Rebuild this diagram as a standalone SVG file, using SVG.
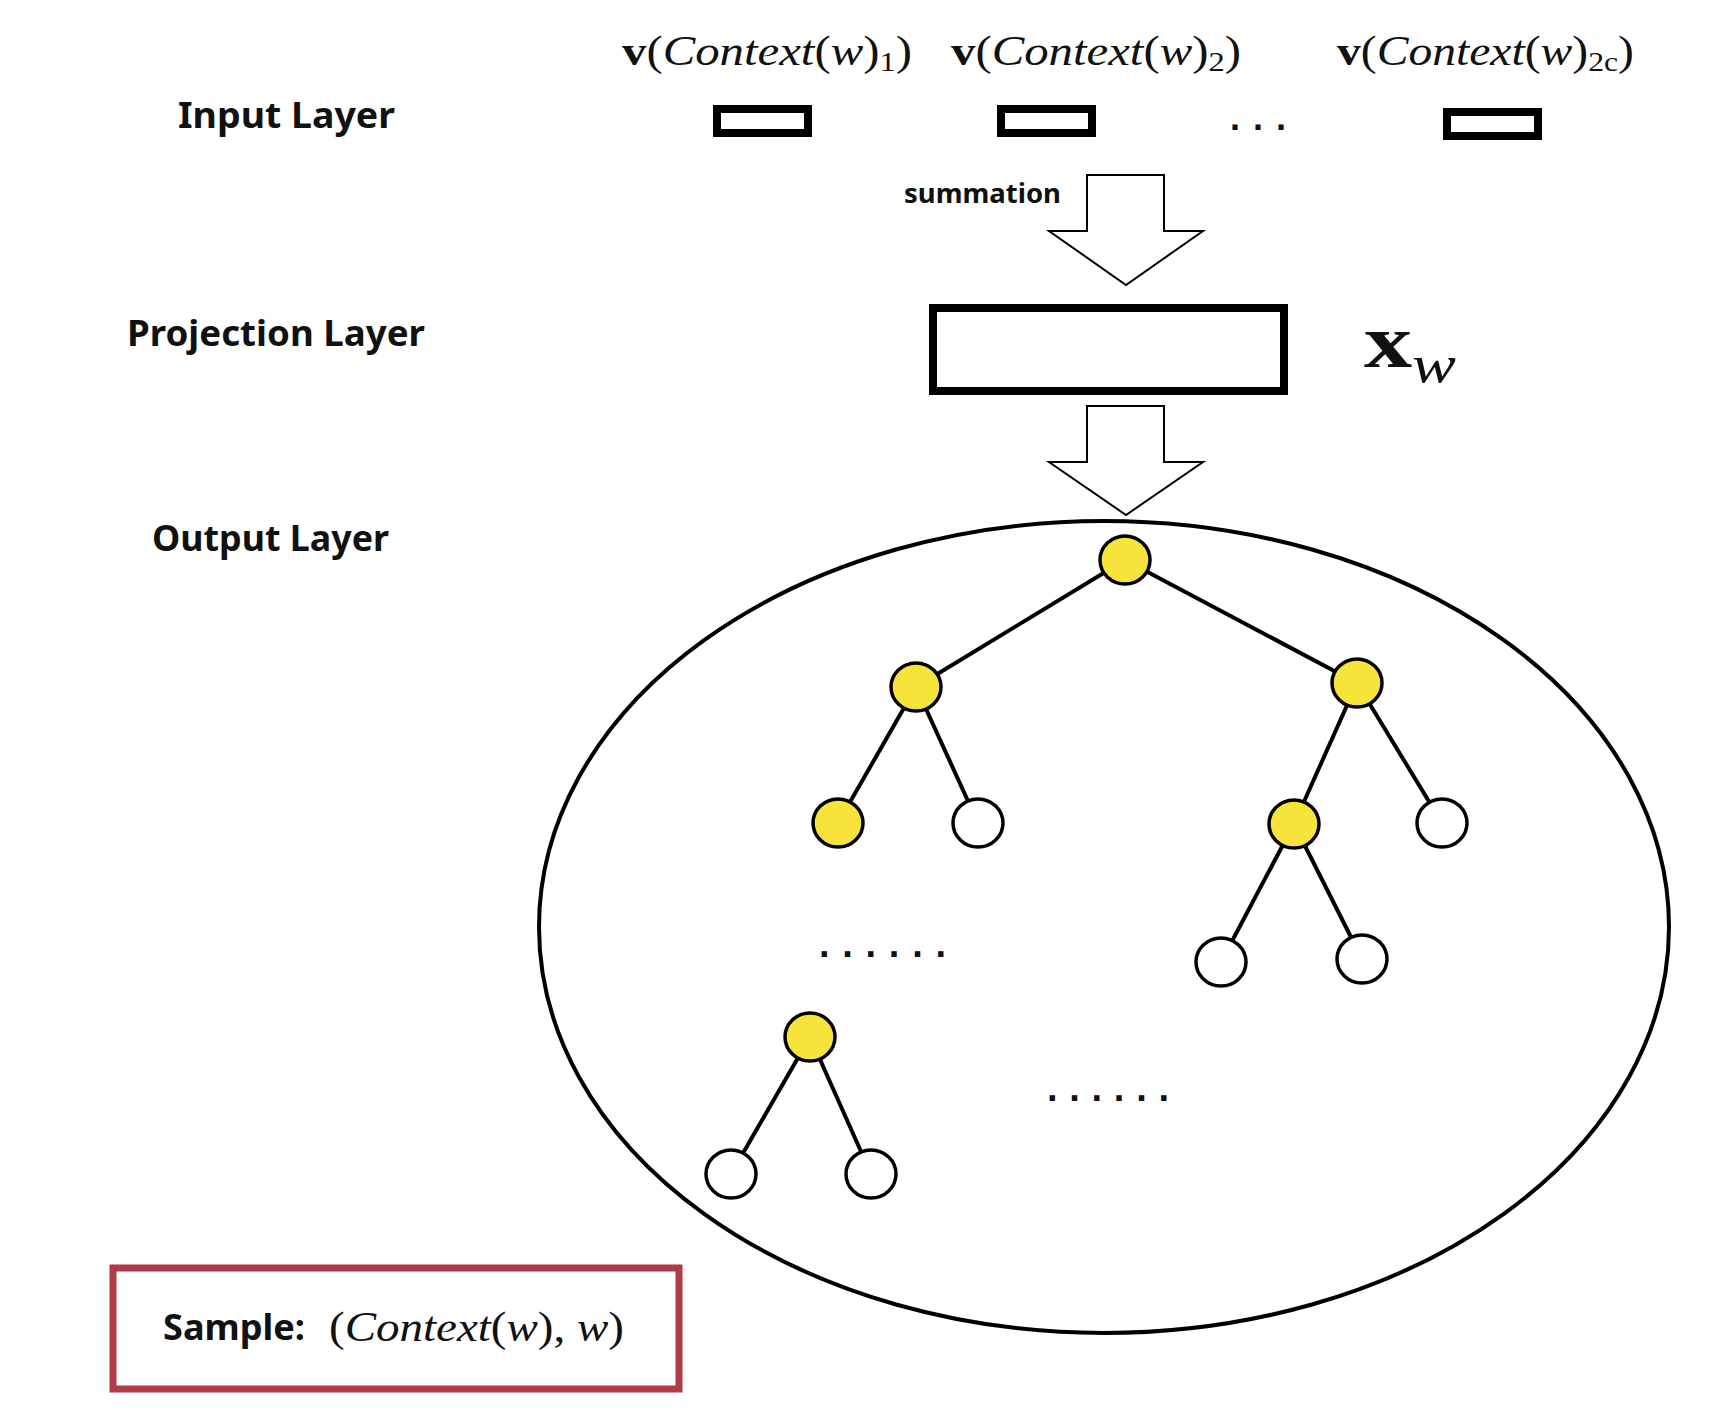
<svg xmlns="http://www.w3.org/2000/svg" width="1724" height="1416" viewBox="0 0 1724 1416">
<style>
.lbl{font-family:"Noto Sans","Open Sans","Liberation Sans",sans-serif;font-weight:bold;fill:#111}
.math{font-family:"Liberation Serif","DejaVu Serif",serif;fill:#111}
.it{font-style:italic}
.bf{font-weight:bold;font-style:normal}
.box{fill:#fff;stroke:#000;stroke-width:8}
.arrow{fill:#fff;stroke:#000;stroke-width:2;stroke-linejoin:miter}
.edge{stroke:#000;stroke-width:4;fill:none}
.yel{fill:#F6E43A;stroke:#000;stroke-width:3.5}
.wht{fill:#fff;stroke:#000;stroke-width:3.5}
.dots{font-family:"Liberation Sans",sans-serif;font-weight:bold;fill:#111}
</style>
<rect width="1724" height="1416" fill="#fff"/>

<g id="layer-labels">
<text class="lbl" x="178" y="128" font-size="36" textLength="217" lengthAdjust="spacingAndGlyphs">Input  Layer</text>
<text class="lbl" x="127" y="346" font-size="36" textLength="298" lengthAdjust="spacingAndGlyphs">Projection  Layer</text>
<text class="lbl" x="152" y="551" font-size="36" textLength="237" lengthAdjust="spacingAndGlyphs">Output Layer</text>
</g>

<g id="input-1">
<text class="math" x="622" y="65" font-size="42" textLength="290" lengthAdjust="spacingAndGlyphs"><tspan class="bf">v</tspan>(<tspan class="it">Context</tspan>(<tspan class="it">w</tspan>)<tspan font-size="28" dy="6">1</tspan><tspan dy="-6">)</tspan></text>
<rect class="box" x="717" y="109" width="91" height="24"/>
</g>
<g id="input-2">
<text class="math" x="951" y="65" font-size="42" textLength="290" lengthAdjust="spacingAndGlyphs"><tspan class="bf">v</tspan>(<tspan class="it">Context</tspan>(<tspan class="it">w</tspan>)<tspan font-size="28" dy="6">2</tspan><tspan dy="-6">)</tspan></text>
<rect class="box" x="1001" y="109" width="91" height="24"/>
</g>
<g id="input-dots">
<text class="dots" x="1230" y="130" font-size="36" textLength="56" lengthAdjust="spacing">...</text>
</g>
<g id="input-2c">
<text class="math" x="1337" y="65" font-size="42" textLength="297" lengthAdjust="spacingAndGlyphs"><tspan class="bf">v</tspan>(<tspan class="it">Context</tspan>(<tspan class="it">w</tspan>)<tspan font-size="28" dy="6">2c</tspan><tspan dy="-6">)</tspan></text>
<rect class="box" x="1447" y="112" width="91" height="24"/>
</g>

<g id="summation-arrow">
<polygon class="arrow" points="1087,175 1164,175 1164,231 1203,231 1126,285 1049,231 1087,231"/>
<text class="lbl" x="904" y="203" font-size="27" textLength="157" lengthAdjust="spacingAndGlyphs">summation</text>
</g>

<g id="projection">
<rect class="box" x="933" y="308" width="351" height="83"/>
<text class="math" x="1364" y="367" font-size="76" textLength="92" lengthAdjust="spacingAndGlyphs"><tspan class="bf">x</tspan><tspan class="it" font-size="52" dy="15">w</tspan></text>
</g>

<g id="output-arrow">
<polygon class="arrow" points="1087,406 1164,406 1164,462 1203,462 1126,515 1049,462 1087,462"/>
</g>

<g id="output-ellipse">
<ellipse cx="1104" cy="927" rx="565" ry="406" fill="none" stroke="#000" stroke-width="4"/>
</g>

<g id="connectors">
<line class="edge" x1="1125" y1="560" x2="916" y2="687"/>
<line class="edge" x1="1125" y1="560" x2="1357" y2="683"/>
<line class="edge" x1="916" y1="687" x2="838" y2="823"/>
<line class="edge" x1="916" y1="687" x2="978" y2="823"/>
<line class="edge" x1="1357" y1="683" x2="1294" y2="824"/>
<line class="edge" x1="1357" y1="683" x2="1442" y2="823"/>
<line class="edge" x1="1294" y1="824" x2="1221" y2="962"/>
<line class="edge" x1="1294" y1="824" x2="1362" y2="959"/>
<line class="edge" x1="810" y1="1037" x2="731" y2="1174"/>
<line class="edge" x1="810" y1="1037" x2="871" y2="1174"/>
</g>

<g id="node-root"><ellipse class="yel" cx="1125" cy="560" rx="25" ry="24"/></g>
<g id="node-l1"><ellipse class="yel" cx="916" cy="687" rx="25" ry="24"/></g>
<g id="node-r1"><ellipse class="yel" cx="1357" cy="683" rx="25" ry="24"/></g>
<g id="node-l1a"><ellipse class="yel" cx="838" cy="823" rx="25" ry="24"/></g>
<g id="node-l1b"><ellipse class="wht" cx="978" cy="823" rx="25" ry="24"/></g>
<g id="node-r1a"><ellipse class="yel" cx="1294" cy="824" rx="25" ry="24"/></g>
<g id="node-r1b"><ellipse class="wht" cx="1442" cy="823" rx="25" ry="24"/></g>
<g id="node-r2a"><ellipse class="wht" cx="1221" cy="962" rx="25" ry="24"/></g>
<g id="node-r2b"><ellipse class="wht" cx="1362" cy="959" rx="25" ry="24"/></g>
<g id="node-deep"><ellipse class="yel" cx="810" cy="1037" rx="25" ry="24"/></g>
<g id="node-deep-a"><ellipse class="wht" cx="731" cy="1174" rx="25" ry="24"/></g>
<g id="node-deep-b"><ellipse class="wht" cx="871" cy="1174" rx="25" ry="24"/></g>

<g id="ellipsis-1"><text class="dots" x="819" y="957" font-size="38" textLength="127" lengthAdjust="spacing">......</text></g>
<g id="ellipsis-2"><text class="dots" x="1047" y="1101" font-size="38" textLength="122" lengthAdjust="spacing">......</text></g>

<g id="sample">
<rect x="113" y="1268" width="566" height="121" fill="#fff" stroke="#B03A46" stroke-width="7"/>
<text class="lbl" x="163" y="1340" font-size="36" textLength="142" lengthAdjust="spacingAndGlyphs">Sample:</text>
<text class="math" x="329" y="1341" font-size="42" textLength="295" lengthAdjust="spacingAndGlyphs">(<tspan class="it">Context</tspan>(<tspan class="it">w</tspan>), <tspan class="it">w</tspan>)</text>
</g>
</svg>
